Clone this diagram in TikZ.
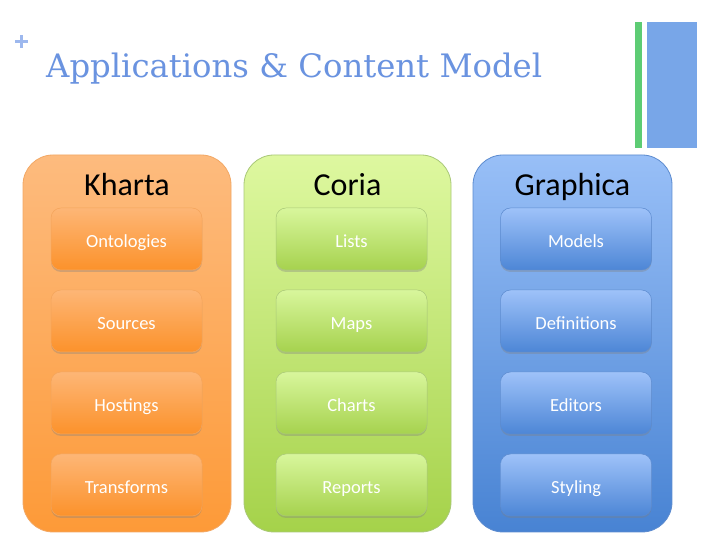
\documentclass[tikz,border=0pt]{standalone}
\usepackage{fontspec}
\setmainfont{Carlito}
\newfontfamily\headfont{DejaVu Serif}
\usetikzlibrary{shadows}

\definecolor{titleblue}{HTML}{6A93E0}
\definecolor{plusblue}{HTML}{9DB8EE}
\definecolor{bargreen}{HTML}{5DCC74}
\definecolor{barblue}{HTML}{78A6E8}
% orange column
\definecolor{orTop}{HTML}{FDBB7E}
\definecolor{orBot}{HTML}{FD9A38}
\definecolor{orEdge}{HTML}{F2A865}
\definecolor{orInTop}{HTML}{FDB676}
\definecolor{orInBot}{HTML}{FC922B}
% green column
\definecolor{grTop}{HTML}{DEF8A0}
\definecolor{grBot}{HTML}{A5D24A}
\definecolor{grEdge}{HTML}{A9C878}
\definecolor{grInTop}{HTML}{D8F69C}
\definecolor{grInBot}{HTML}{A6D24E}
% blue column
\definecolor{blTop}{HTML}{98BFF7}
\definecolor{blBot}{HTML}{4883D3}
\definecolor{blEdge}{HTML}{5C8BCF}
\definecolor{blInTop}{HTML}{9EC2F9}
\definecolor{blInBot}{HTML}{4D86D6}

\tikzset{
  column/.style={rounded corners=30pt, minimum height=377pt,
    inner sep=0pt, line width=0.8pt},
  colhead/.style={font=\fontsize{32}{34}\selectfont, text=black,
    text height=22pt, text depth=7pt, inner sep=0pt},
  itembox/.style={rounded corners=10pt, minimum width=151pt, minimum height=62pt,
    inner sep=0pt, text=white, font=\fontsize{18.5}{20}\selectfont, line width=0.5pt,
    text height=21pt, text depth=4pt,
    drop shadow={opacity=0.35, shadow xshift=0pt, shadow yshift=-2pt}},
  orcol/.style={column, minimum width=208pt, draw=orEdge, top color=orTop, bottom color=orBot},
  grcol/.style={column, minimum width=207pt, draw=grEdge, top color=grTop, bottom color=grBot},
  blcol/.style={column, minimum width=199pt, draw=blEdge, top color=blTop, bottom color=blBot},
  oritem/.style={itembox, draw=orEdge!80!orBot, top color=orInTop, bottom color=orInBot},
  gritem/.style={itembox, draw=grEdge, top color=grInTop, bottom color=grInBot},
  blitem/.style={itembox, draw=blEdge, top color=blInTop, bottom color=blInBot},
}

\begin{document}
\begin{tikzpicture}[x=1pt,y=1pt]
  \useasboundingbox[fill=white] (0,0) rectangle (720,540);

  % plus mark in the corner
  \fill[plusblue] (15,496.5) rectangle (28,499.5);
  \fill[plusblue] (20,491.5) rectangle (23,504.5);

  % heading and side bars
  \node[anchor=base west, inner sep=0pt, text=titleblue] (title) at (46,462)
    {\resizebox{496pt}{!}{\headfont\fontsize{36}{40}\selectfont Applications \& Content Model}};
  \fill[bargreen] (635,392) rectangle (642,518);
  \fill[barblue] (647,392) rectangle (697,518);

  % columns
  \node[orcol] (kharta) at (127,196.5) {};
  \node[grcol] (coria) at (347.5,196.5) {};
  \node[blcol] (graphica) at (572.5,196.5) {};

  \node[colhead] (kharta-title) at (127,351.5) {Kharta};
  \node[colhead] (coria-title) at (347.5,351.5) {Coria};
  \node[colhead] (graphica-title) at (572.5,351.5) {Graphica};

  % Kharta items
  \node[oritem] (k1) at (126.5,301) {Ontologies};
  \node[oritem] (k2) at (126.5,219) {Sources};
  \node[oritem] (k3) at (126.5,137) {Hostings};
  \node[oritem] (k4) at (126.5,55) {Transforms};

  % Coria items
  \node[gritem] (c1) at (351.5,301) {Lists};
  \node[gritem] (c2) at (351.5,219) {Maps};
  \node[gritem] (c3) at (351.5,137) {Charts};
  \node[gritem] (c4) at (351.5,55) {Reports};

  % Graphica items
  \node[blitem] (g1) at (576,301) {Models};
  \node[blitem] (g2) at (576,219) {Definitions};
  \node[blitem] (g3) at (576,137) {Editors};
  \node[blitem] (g4) at (576,55) {Styling};
\end{tikzpicture}
\end{document}
